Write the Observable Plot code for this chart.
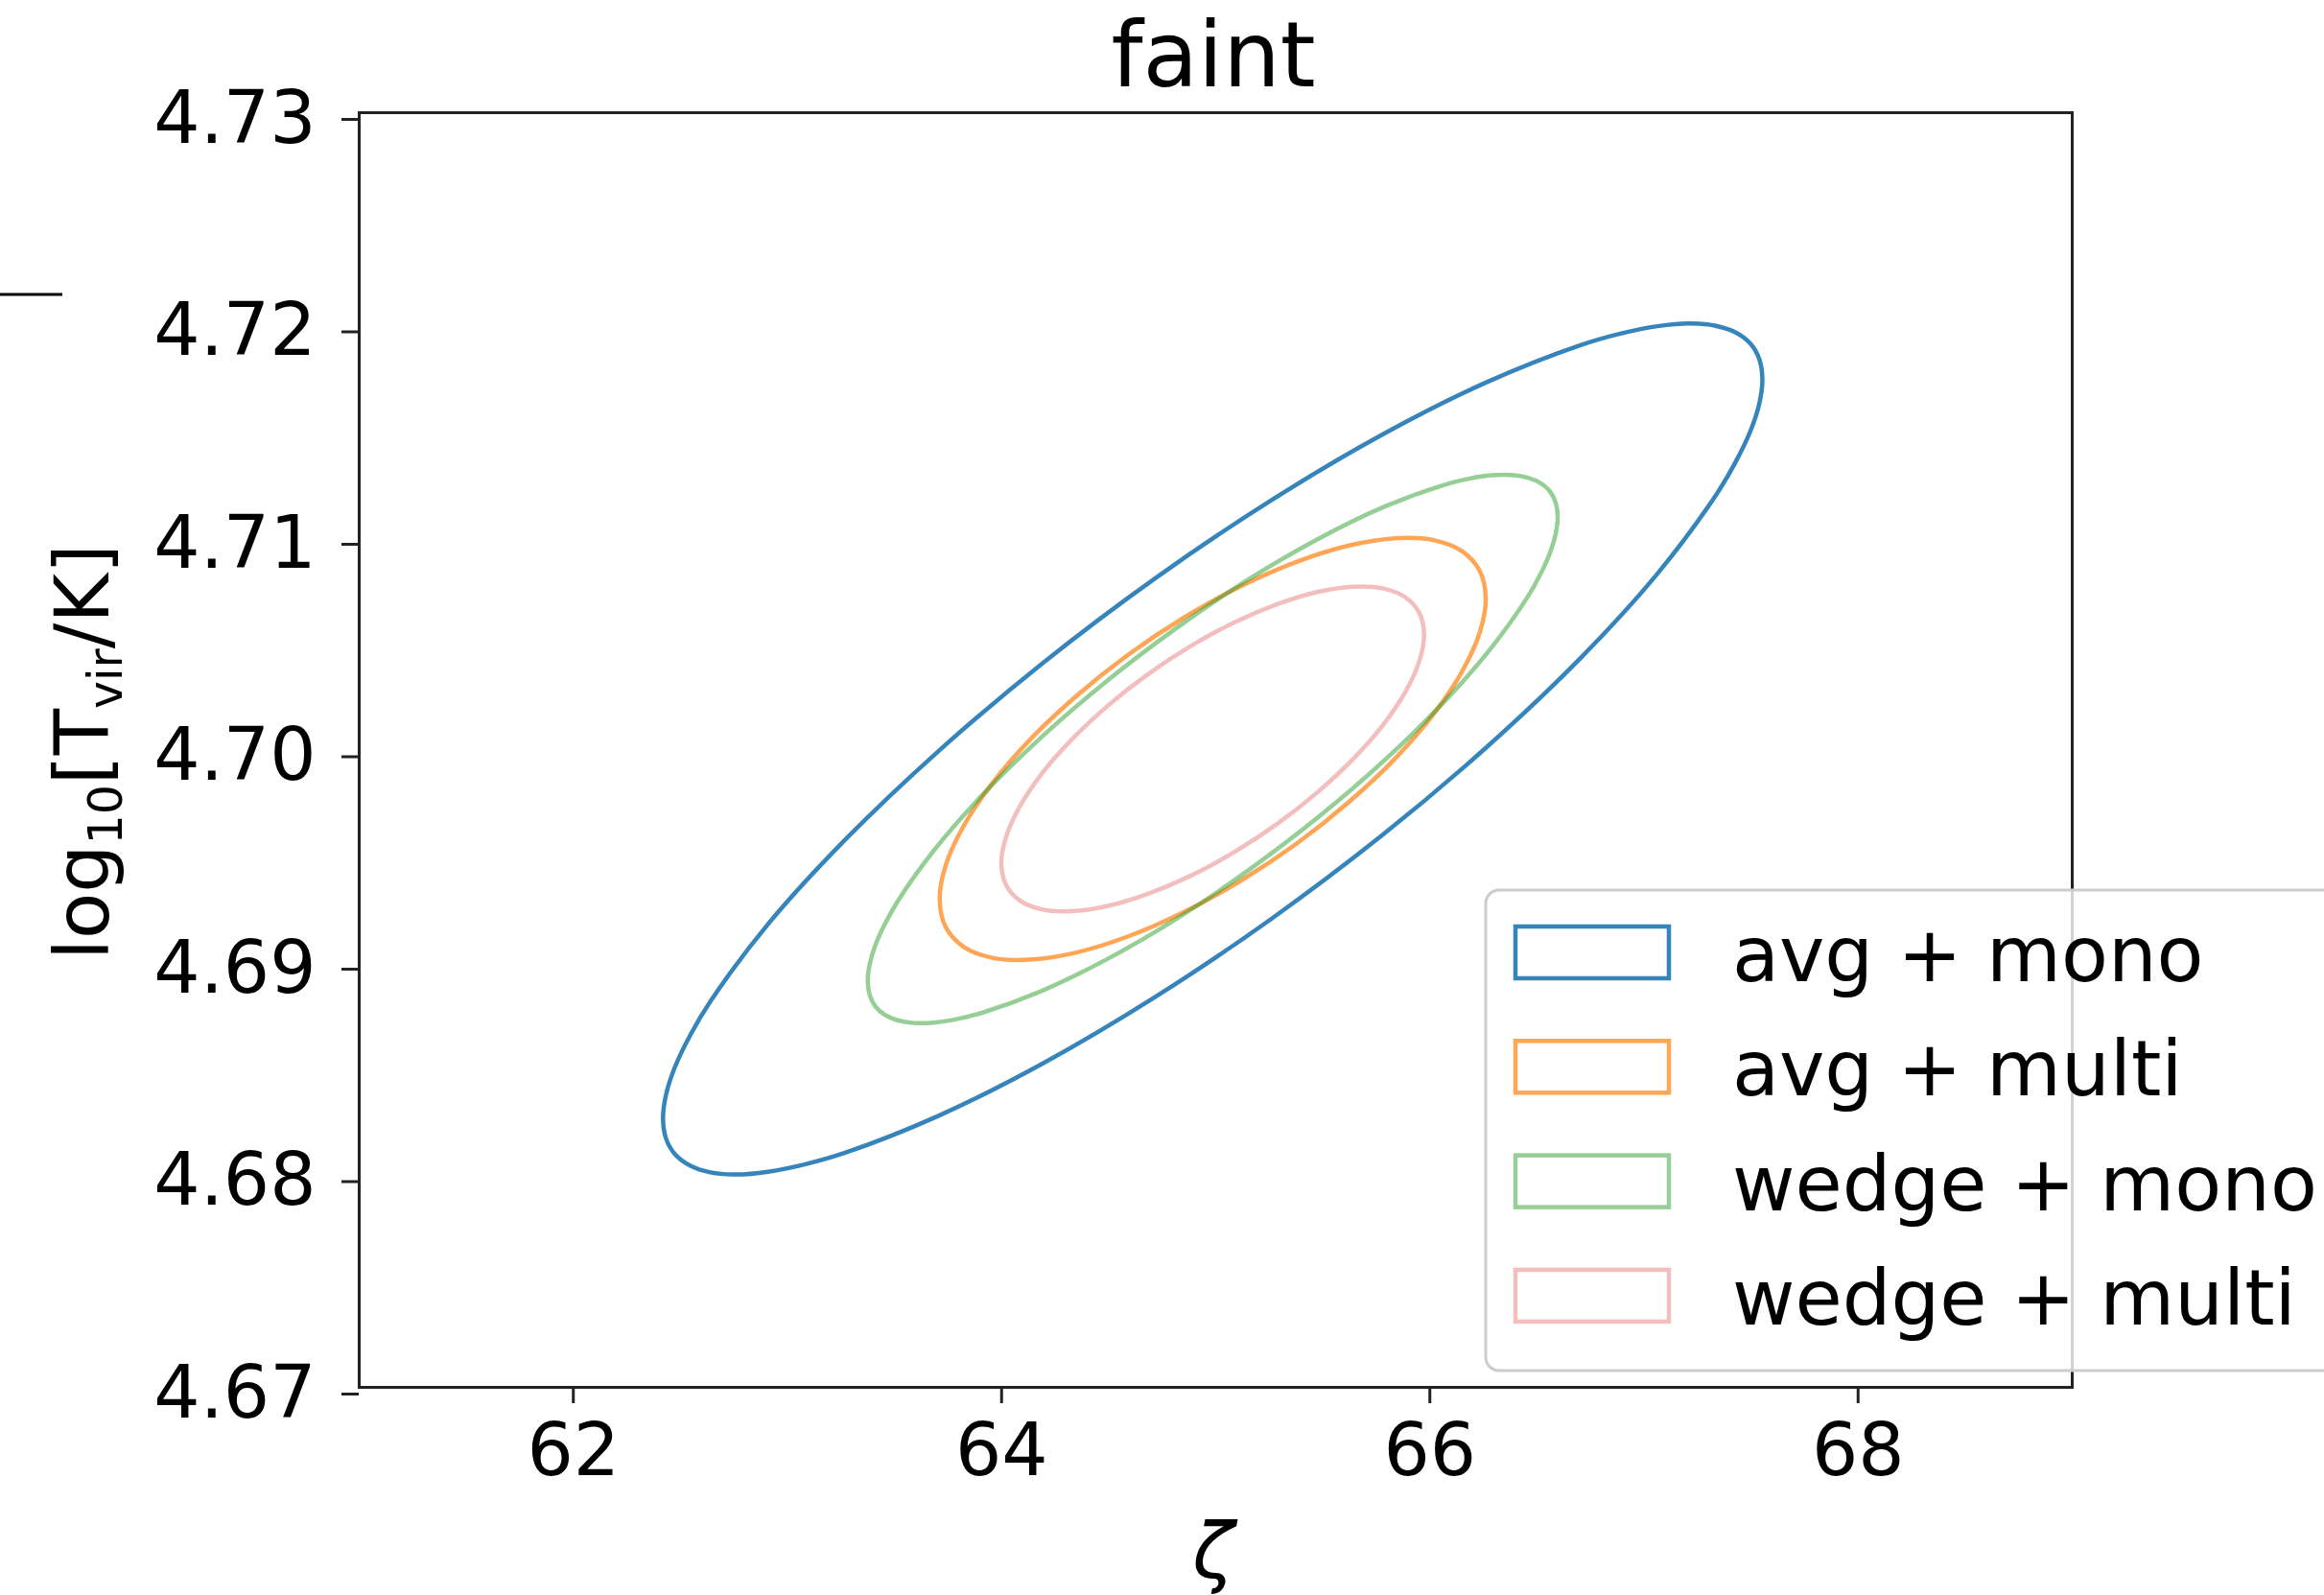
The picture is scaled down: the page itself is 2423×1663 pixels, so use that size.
<!DOCTYPE html>
<html>
<head>
<meta charset="utf-8">
<script src="https://cdn.jsdelivr.net/npm/d3@7"></script>
<script src="https://cdn.jsdelivr.net/npm/@observablehq/plot@0.6"></script>
<style>
  html, body { margin: 0; padding: 0; background: #ffffff; }
  #chart svg { display: block; }
</style>
</head>
<body>
<div id="chart"></div>
<script>
// ---------- data ----------
const panelTitle = "faint";
const seriesNames = ["avg + mono", "avg + multi", "wedge + mono", "wedge + multi"];
const seriesColors = ["#1f77b4", "#ff7f0e", "#2ca02c", "#d62728"];
const seriesOpacity = [0.9, 0.7, 0.5, 0.3];

const xTicks = [62, 64, 66, 68];
const yTicks = [4.67, 4.68, 4.69, 4.70, 4.71, 4.72, 4.73];

// contour points (zeta, log10 Tvir), traced around each contour
const avgMonoZeta = [67.553, 67.539, 67.497, 67.427, 67.331, 67.209, 67.063, 66.894, 66.704, 66.269, 65.779, 65.254, 64.718, 64.193, 63.703, 63.269, 62.909, 62.641, 62.545, 62.475, 62.433, 62.419, 62.433, 62.475, 62.545, 62.641, 62.763, 62.909, 63.079, 63.269, 63.703, 64.193, 64.718, 65.254, 65.779, 66.269, 66.704, 67.063, 67.331, 67.427, 67.497, 67.539];
const avgMonoLogT = [4.71745, 4.71839, 4.71913, 4.71966, 4.71998, 4.72008, 4.71995, 4.71961, 4.71906, 4.71733, 4.71485, 4.71172, 4.70809, 4.70410, 4.69993, 4.69577, 4.69180, 4.68818, 4.68656, 4.68509, 4.68378, 4.68265, 4.68171, 4.68097, 4.68044, 4.68012, 4.68002, 4.68015, 4.68049, 4.68104, 4.68277, 4.68525, 4.68838, 4.69201, 4.69600, 4.70017, 4.70433, 4.70830, 4.71192, 4.71354, 4.71501, 4.71632];

const avgMultiZeta = [66.261, 66.233, 66.150, 66.017, 65.839, 65.623, 65.380, 65.119, 64.853, 64.592, 64.349, 64.133, 63.955, 63.822, 63.739, 63.711, 63.739, 63.822, 63.955, 64.133, 64.349, 64.592, 64.853, 65.119, 65.380, 65.623, 65.839, 66.017, 66.150, 66.233];
const avgMultiLogT = [4.70714, 4.70843, 4.70936, 4.70988, 4.70997, 4.70963, 4.70887, 4.70772, 4.70624, 4.70449, 4.70254, 4.70049, 4.69841, 4.69641, 4.69457, 4.69296, 4.69167, 4.69074, 4.69022, 4.69013, 4.69047, 4.69123, 4.69238, 4.69386, 4.69561, 4.69756, 4.69961, 4.70169, 4.70369, 4.70553];

const wedgeMonoZeta = [66.597, 66.588, 66.562, 66.518, 66.458, 66.381, 66.289, 66.183, 66.064, 65.792, 65.484, 65.154, 64.818, 64.488, 64.180, 63.908, 63.683, 63.514, 63.454, 63.410, 63.384, 63.375, 63.384, 63.410, 63.454, 63.514, 63.591, 63.683, 63.789, 63.908, 64.180, 64.488, 64.818, 65.154, 65.484, 65.792, 66.064, 66.289, 66.458, 66.518, 66.562, 66.588];
const wedgeMonoLogT = [4.71097, 4.71163, 4.71216, 4.71256, 4.71282, 4.71295, 4.71293, 4.71277, 4.71247, 4.71147, 4.70997, 4.70804, 4.70575, 4.70322, 4.70055, 4.69786, 4.69526, 4.69287, 4.69179, 4.69080, 4.68991, 4.68913, 4.68847, 4.68794, 4.68754, 4.68728, 4.68715, 4.68717, 4.68733, 4.68763, 4.68863, 4.69013, 4.69206, 4.69435, 4.69688, 4.69955, 4.70224, 4.70484, 4.70723, 4.70831, 4.70930, 4.71019];

const wedgeMultiZeta = [65.973, 65.951, 65.887, 65.784, 65.646, 65.479, 65.291, 65.089, 64.883, 64.681, 64.493, 64.326, 64.188, 64.085, 64.021, 63.999, 64.021, 64.085, 64.188, 64.326, 64.493, 64.681, 64.883, 65.089, 65.291, 65.479, 65.646, 65.784, 65.887, 65.951];
const wedgeMultiLogT = [4.70544, 4.70645, 4.70718, 4.70760, 4.70769, 4.70745, 4.70688, 4.70602, 4.70489, 4.70355, 4.70206, 4.70048, 4.69889, 4.69734, 4.69591, 4.69466, 4.69365, 4.69292, 4.69250, 4.69241, 4.69265, 4.69322, 4.69408, 4.69521, 4.69655, 4.69804, 4.69962, 4.70121, 4.70276, 4.70419];

// ---------- build table ----------
const seriesZeta = [avgMonoZeta, avgMultiZeta, wedgeMonoZeta, wedgeMultiZeta];
const seriesLogT = [avgMonoLogT, avgMultiLogT, wedgeMonoLogT, wedgeMultiLogT];
const rows = [];
seriesNames.forEach((name, i) => {
  seriesZeta[i].forEach((z, j) => rows.push({series: name, zeta: z, logT: seriesLogT[i][j]}));
});

const W = 2423, H = 1663;
const FONT = "DejaVu Sans, Liberation Sans, sans-serif";

const chart = Plot.plot({
  width: W,
  height: H,
  marginLeft: 374,
  marginRight: 263,
  marginTop: 117,
  marginBottom: 217,
  style: {fontFamily: FONT, fontSize: "76px", color: "black", background: "white", overflow: "hidden"},
  x: {domain: [61, 69]},
  y: {domain: [4.67, 4.73]},
  marks: [
    ...seriesNames.map((name, i) =>
      Plot.line(rows.filter(d => d.series === name), {
        x: "zeta", y: "logT",
        stroke: seriesColors[i], strokeOpacity: seriesOpacity[i],
        strokeWidth: 4.5, curve: "catmull-rom-closed"
      })
    ),
    Plot.frame({stroke: "#222222", strokeWidth: 3}),
    Plot.axisX({ticks: xTicks, tickSize: 17, tickPadding: 21, fontSize: 76, label: null, strokeWidth: 3, stroke: "#222222", fill: "black"}),
    Plot.axisY({ticks: yTicks, tickFormat: d => d.toFixed(2), tickSize: 18, tickPadding: 27, fontSize: 76, label: null, strokeWidth: 3, stroke: "#222222", fill: "black", dy: 7})
  ]
});

document.getElementById("chart").appendChild(chart);
const svg = d3.select(chart);

// title
svg.append("text")
  .attr("x", 1265).attr("y", 90)
  .attr("text-anchor", "middle")
  .attr("font-family", FONT).attr("font-size", 94).attr("fill", "black")
  .text(panelTitle);

// x label (zeta, italic)
svg.append("text")
  .attr("x", 1265).attr("y", 1645)
  .attr("text-anchor", "middle")
  .attr("font-family", FONT).attr("font-style", "italic").attr("font-size", 80).attr("fill", "black")
  .text("ζ");

// y label log10[Tvir/K]
const yl = svg.append("text")
  .attr("transform", "translate(113,784) rotate(-90)")
  .attr("text-anchor", "middle")
  .attr("font-family", FONT).attr("font-size", 79).attr("fill", "black");
yl.append("tspan").text("log");
yl.append("tspan").attr("font-size", 49).attr("dy", 14).text("10");
yl.append("tspan").attr("dy", -14).text("[T");
yl.append("tspan").attr("font-size", 49).attr("dy", 14).text("vir");
yl.append("tspan").attr("dy", -14).text("/K]");

// fragment of neighbouring panel at top-left edge
svg.append("line")
  .attr("x1", 0).attr("x2", 65).attr("y1", 307).attr("y2", 307)
  .attr("stroke", "black").attr("stroke-width", 3);

// legend
const lg = svg.append("g").attr("text-anchor", "start");
lg.append("rect")
  .attr("x", 1549).attr("y", 928).attr("width", 1100).attr("height", 501).attr("rx", 14)
  .attr("fill", "white").attr("fill-opacity", 0.8)
  .attr("stroke", "#cccccc").attr("stroke-width", 3);
seriesNames.forEach((name, i) => {
  const y0 = 964 + i * 119.3;
  lg.append("rect")
    .attr("x", 1580).attr("y", y0 + 2).attr("width", 160).attr("height", 54)
    .attr("fill", "none").attr("stroke", seriesColors[i]).attr("stroke-opacity", seriesOpacity[i])
    .attr("stroke-width", 4.5);
  lg.append("text")
    .attr("x", 1806).attr("y", y0 + 59)
    .attr("text-anchor", "start")
    .attr("font-family", FONT).attr("font-size", 80).attr("fill", "black")
    .text(name);
});
</script>
</body>
</html>
